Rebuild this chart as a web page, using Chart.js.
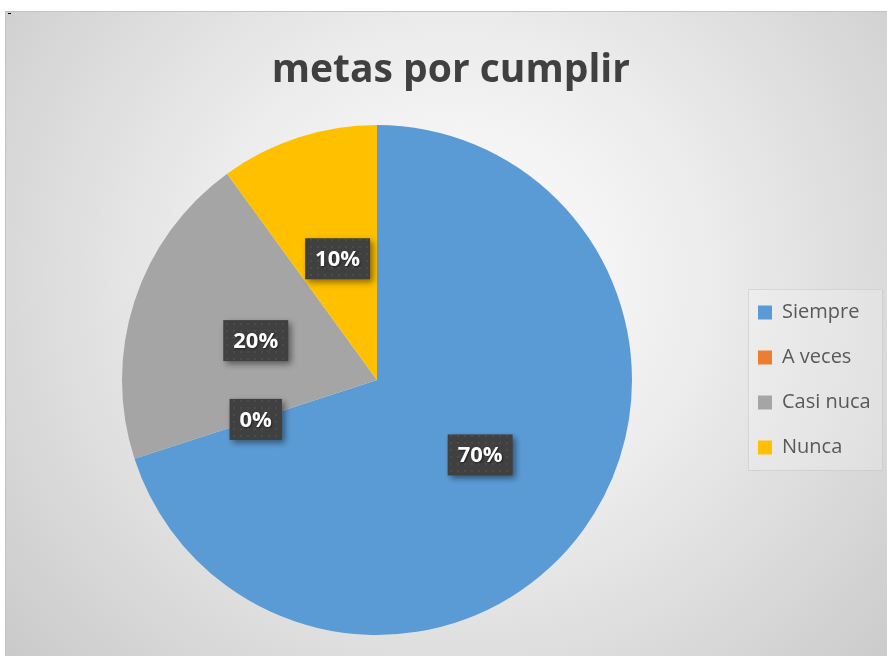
<!DOCTYPE html>
<html lang="es">
<head>
    <meta charset="UTF-8">
    <title>metas por cumplir</title>
    <style>
        body {
            margin: 0;
            background: #fff;
            overflow: hidden;
        }
        .marco {
            position: absolute;
            left: 5px;
            top: 11px;
            width: 900px;
            height: 700px;
            border: 1px solid #c4c4c4;
            background: radial-gradient(ellipse farthest-corner at 50% 38%, #ffffff 0%, #ececec 40%, #c6c6c6 100%);
        }
        .marca {
            position: absolute;
            left: 8px;
            top: 13px;
            width: 3px;
            height: 1px;
            background: #000;
        }
        canvas {
            position: absolute;
            left: 0;
            top: 0;
        }
    </style>
</head>
<body>
    <div class="marco">
        <canvas id="grafica" width="881" height="644"></canvas>
    </div>
    <div class="marca"></div>

    <script src="https://cdn.jsdelivr.net/npm/chart.js"></script>
    <script>
        // Datos de la encuesta
        const categorias = ['Siempre', 'A veces', 'Casi nuca', 'Nunca'];
        const valores = [70, 0, 20, 10];
        const colores = ['#5B9BD5', '#ED7D31', '#A5A5A5', '#FFC000'];
        const titulo = 'metas por cumplir';

        const fuente = '"Open Sans", "DejaVu Sans", sans-serif';

        // ancho del texto mas largo de la leyenda, para dejar la leyenda en su sitio
        const medir = document.createElement('canvas').getContext('2d');
        medir.font = '20px ' + fuente;
        const anchoTexto = Math.max(...categorias.map(c => medir.measureText(c).width));
        const padDerecha = Math.max(0, 95 - anchoTexto);

        // trama de puntos para las etiquetas
        function crearTrama() {
            const c = document.createElement('canvas');
            c.width = 7; c.height = 7;
            const g = c.getContext('2d');
            g.fillStyle = '#404040';
            g.fillRect(0, 0, 7, 7);
            g.fillStyle = '#4b4b4b';
            g.fillRect(3, 3, 2, 2);
            return g.createPattern(c, 'repeat');
        }

        // cuadro detras de la leyenda
        const fondoLeyenda = {
            id: 'fondoLeyenda',
            beforeDraw(chart) {
                const l = chart.legend;
                if (!l) return;
                const ctx = chart.ctx;
                const cy = (l.top + l.bottom) / 2;
                ctx.save();
                ctx.fillStyle = 'rgba(255,255,255,0.22)';
                ctx.strokeStyle = 'rgba(200,200,200,0.6)';
                ctx.fillRect(l.left + 15, cy - 91, 134, 181);
                ctx.strokeRect(l.left + 15.5, cy - 90.5, 134, 181);
                ctx.restore();
            }
        };

        // etiquetas de porcentaje
        const etiquetas = {
            id: 'etiquetas',
            afterDatasetsDraw(chart) {
                const ctx = chart.ctx;
                const datos = chart.data.datasets[0].data;
                const total = datos.reduce((a, b) => a + b, 0);
                const trama = crearTrama();
                chart.getDatasetMeta(0).data.forEach((arco, i) => {
                    const p = arco.tooltipPosition();
                    const txt = Math.round(datos[i] / total * 100) + '%';
                    ctx.save();
                    ctx.font = 'bold 22px ' + fuente;
                    const w = ctx.measureText(txt).width + 20;
                    const h = 41;
                    ctx.shadowColor = 'rgba(0,0,0,0.45)';
                    ctx.shadowBlur = 6;
                    ctx.shadowOffsetX = 3;
                    ctx.shadowOffsetY = 3;
                    ctx.fillStyle = trama;
                    ctx.fillRect(p.x - w / 2, p.y - h / 2, w, h);
                    ctx.shadowColor = 'rgba(0,0,0,0.5)';
                    ctx.shadowBlur = 2;
                    ctx.shadowOffsetX = 1;
                    ctx.shadowOffsetY = 1;
                    ctx.fillStyle = '#ffffff';
                    ctx.textAlign = 'center';
                    ctx.textBaseline = 'middle';
                    ctx.fillText(txt, p.x, p.y + 1);
                    ctx.restore();
                });
            }
        };

        new Chart(document.getElementById('grafica'), {
            type: 'pie',
            data: {
                labels: categorias,
                datasets: [{
                    data: valores,
                    backgroundColor: colores,
                    borderWidth: 0
                }]
            },
            options: {
                responsive: false,
                animation: false,
                layout: {
                    padding: { left: 15, right: padDerecha, top: 0, bottom: 21 }
                },
                plugins: {
                    title: {
                        display: true,
                        text: titulo,
                        color: '#404040',
                        font: { family: fuente, size: 39, weight: 'bold' },
                        padding: { top: 35, bottom: 31.2 }
                    },
                    legend: {
                        position: 'right',
                        align: 'center',
                        fullSize: false,
                        labels: {
                            boxWidth: 14,
                            boxHeight: 14,
                            padding: 25,
                            color: '#595959',
                            font: { family: fuente, size: 20 }
                        }
                    },
                    tooltip: { enabled: false }
                }
            },
            plugins: [fondoLeyenda, etiquetas]
        });
    </script>
</body>
</html>
